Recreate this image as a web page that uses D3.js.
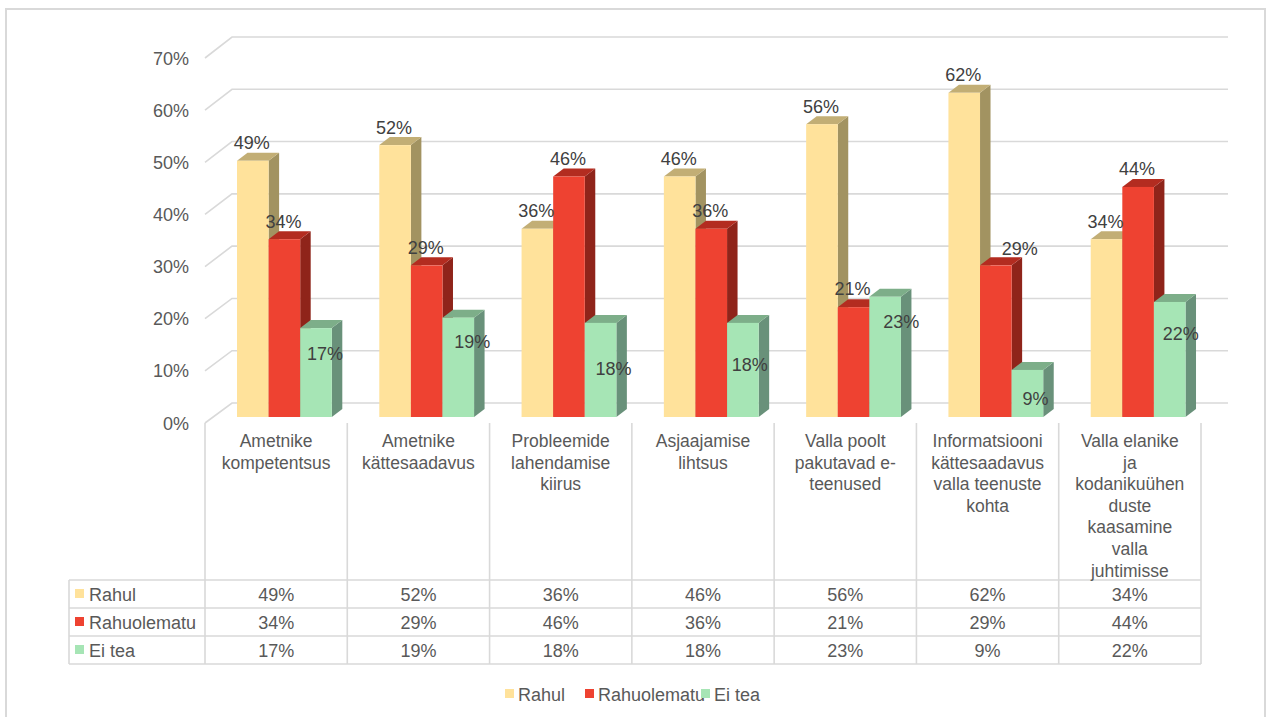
<!DOCTYPE html>
<html><head><meta charset="utf-8">
<script src="https://cdn.jsdelivr.net/npm/d3@7/dist/d3.min.js"></script>
<style>html,body{margin:0;padding:0;background:#fff}svg{display:block}text{font-family:"Liberation Sans",Arial,sans-serif}</style>
</head><body><svg id="c" width="1272" height="717"></svg>
<script>
const categories=[["Ametnike","kompetentsus"],["Ametnike","kättesaadavus"],["Probleemide","lahendamise","kiirus"],["Asjaajamise","lihtsus"],["Valla poolt","pakutavad e-","teenused"],["Informatsiooni","kättesaadavus","valla teenuste","kohta"],["Valla elanike","ja","kodanikuühen","duste","kaasamine","valla","juhtimisse"]];
const seriesNames=["Rahul","Rahuolematu","Ei tea"];
const rahul=[49,52,36,46,56,62,34];
const rahuolematu=[34,29,46,36,21,29,44];
const eiTea=[17,19,18,18,23,9,22];
const yTicks=[0,10,20,30,40,50,60,70];
const seriesValues=[rahul,rahuolematu,eiTea];
const colors=[{f:"#FFE29B",t:"#C2AE75",s:"#A29361"},{f:"#EE4231",t:"#B32C20",s:"#8F241A"},{f:"#A6E5B5",t:"#7DAE89",s:"#69917A"}];
// label nudges relative to bar top / centre (placement only)
const nudgeX=[[-1,-1,-1,-1,-1,-1,-1],[-1,-1,-1,-1,-1,24,-1],[9,14,13,7,16,8,11]];
const nudgeY=[[-18,-18,-18,-18,-18,-18,-18],[-18,-18,-18,-18,-19,-17,-18],[25,24,46,42,25,29,32]];

const svg=d3.select("#c");
const grid="#D9D9D9",txt="#595959",lab="#404040";
const depthX=10.5,depthY=8,wallX=27,wallY=20.5;
const x=d3.scaleBand().domain(d3.range(7)).range([205,1201]).padding(0);
const yFront=d3.scaleLinear().domain([0,70]).range([423,58]);
const yBar=d3.scaleLinear().domain([0,70]).range([417,51]);
const yBack=d3.scaleLinear().domain([0,70]).range([403,37]);

svg.append("rect").attr("x",6).attr("y",9).attr("width",1259).attr("height",730).attr("fill","#fff").attr("stroke",grid).attr("stroke-width",2);

const g=svg.append("g");
g.selectAll(".grid").data(yTicks).join("path").attr("fill","none").attr("stroke",grid).attr("stroke-width",1.6)
 .attr("d",d=>`M${x.range()[0]},${yFront(d)}L${x.range()[0]+wallX},${yBack(d)}H1228`);

// y labels
svg.selectAll(".yl").data(yTicks).join("text").attr("x",189).attr("y",d=>yFront(d)+6.5).attr("text-anchor","end")
 .attr("font-size",18).attr("fill",txt).text(d=>d+"%");

// bars
const inner=d3.scaleBand().domain([0,1,2]).range([32,32+31.6*3]);
seriesValues.forEach((vals,si)=>{
  const gs=svg.append("g");
  vals.forEach((v,ci)=>{
    const x0=x(ci)+inner(si),w=inner.bandwidth(),y0=yBar(0),yt=yBar(v);
    gs.append("path").attr("fill",colors[si].s).attr("d",`M${x0+w},${yt}l${depthX},${-depthY}V${y0-depthY}l${-depthX},${depthY}Z`);
    gs.append("path").attr("fill",colors[si].t).attr("d",`M${x0},${yt}l${depthX},${-depthY}h${w}l${-depthX},${depthY}Z`);
    gs.append("rect").attr("x",x0).attr("y",yt).attr("width",w).attr("height",y0-yt).attr("fill",colors[si].f);
  });
});
// data labels
seriesValues.forEach((vals,si)=>{
  svg.append("g").selectAll("text").data(vals).join("text")
   .attr("x",(d,i)=>x(i)+inner(si)+inner.bandwidth()/2+nudgeX[si][i])
   .attr("y",(d,i)=>yBar(d)+nudgeY[si][i]+6.5)
   .attr("text-anchor","middle").attr("font-size",18).attr("fill",lab).text(d=>d+"%");
});

// table
const rowY=d3.scaleBand().domain([0,1,2]).range([580,664]);
const tl=svg.append("g").attr("stroke",grid).attr("stroke-width",1.6).attr("fill","none");
d3.range(8).forEach(i=>{const X=i<7?x(i):x.range()[1];tl.append("line").attr("x1",X).attr("x2",X).attr("y1",423).attr("y2",664);});
[0,1,2,3].forEach(i=>{const Y=i<3?rowY(i):rowY.range()[1];tl.append("line").attr("x1",69).attr("x2",1201).attr("y1",Y).attr("y2",Y);});
tl.append("line").attr("x1",69).attr("x2",69).attr("y1",580).attr("y2",664);

categories.forEach((lines,i)=>{
  svg.append("text").attr("text-anchor","middle").attr("font-size",17.5).attr("fill",txt)
   .selectAll("tspan").data(lines).join("tspan").attr("x",x(i)+x.bandwidth()/2).attr("y",(d,k)=>447+k*21.6).text(d=>d);
});
seriesNames.forEach((n,si)=>{
  const Y=rowY(si)+rowY.bandwidth()/2;
  svg.append("rect").attr("x",75).attr("y",Y-5).attr("width",9).attr("height",9).attr("fill",colors[si].f);
  svg.append("text").attr("x",89).attr("y",Y+6.5).attr("font-size",18).attr("fill",txt).text(n);
  svg.append("g").selectAll("text").data(seriesValues[si]).join("text")
   .attr("x",(d,i)=>x(i)+x.bandwidth()/2).attr("y",Y+6.5).attr("text-anchor","middle").attr("font-size",18).attr("fill",txt).text(d=>d+"%");
});

// legend
const legX=[505,585,701];
seriesNames.forEach((n,si)=>{
  svg.append("rect").attr("x",legX[si]).attr("y",689).attr("width",9).attr("height",9).attr("fill",colors[si].f);
  svg.append("text").attr("x",legX[si]+13).attr("y",700.5).attr("font-size",18).attr("fill",txt).text(n);
});
</script></body></html>
